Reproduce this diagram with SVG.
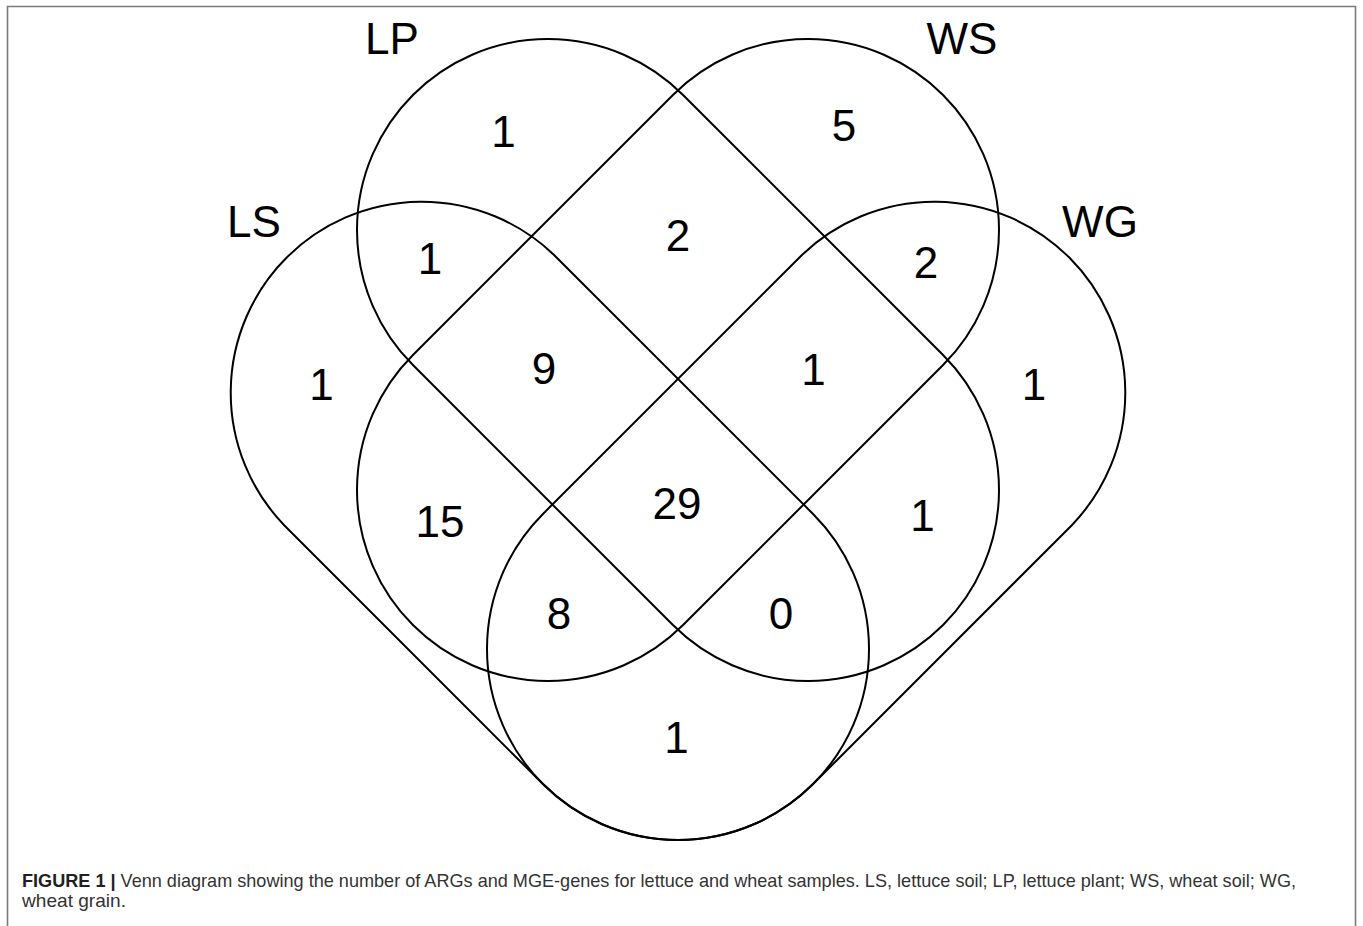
<svg xmlns="http://www.w3.org/2000/svg" width="1363" height="926" viewBox="0 0 1363 926">
<style>
.set{fill:none;stroke:#000;stroke-width:2}
.lab{font-family:"Liberation Sans",Arial,sans-serif;font-size:44px;fill:#000;text-anchor:middle}
.cap{font-family:"Liberation Sans",Arial,sans-serif;font-size:19px;fill:#333}
.frame{fill:none;stroke:#7a7a7a;stroke-width:1.6}
</style>
<rect width="1363" height="926" fill="#fff"/>
<path class="frame" d="M7.5,930 V6.5 H1355.5 V930"/>
<g id="set-LS">
<path class="set" d="M554.06,254.94 L813.06,513.94 A191,191 0 0 1 542.94,784.06 L283.94,524.94 A191,191 0 0 1 554.06,254.94 Z"/>
<text class="lab" x="254" y="237">LS</text>
</g>
<g id="set-LP">
<path class="set" d="M683.06,94.94 L943.06,354.94 A191,191 0 0 1 672.94,625.06 L412.94,365.06 A191,191 0 0 1 683.06,94.94 Z"/>
<text class="lab" x="392" y="54">LP</text>
</g>
<g id="set-WS">
<path class="set" d="M672.94,94.94 L412.94,354.94 A191,191 0 0 0 683.06,625.06 L943.06,365.06 A191,191 0 0 0 672.94,94.94 Z"/>
<text class="lab" x="962" y="54">WS</text>
</g>
<g id="set-WG">
<path class="set" d="M801.94,254.94 L542.94,513.94 A191,191 0 0 0 813.06,784.06 L1072.06,524.94 A191,191 0 0 0 801.94,254.94 Z"/>
<text class="lab" x="1100" y="237">WG</text>
</g>
<g id="counts">
<text class="lab" x="503.5" y="147">1</text>
<text class="lab" x="844" y="141">5</text>
<text class="lab" x="678" y="251">2</text>
<text class="lab" x="430" y="274">1</text>
<text class="lab" x="926" y="278">2</text>
<text class="lab" x="321.5" y="400">1</text>
<text class="lab" x="544" y="384">9</text>
<text class="lab" x="813.5" y="385">1</text>
<text class="lab" x="1034" y="400">1</text>
<text class="lab" x="440" y="537">15</text>
<text class="lab" x="677" y="519">29</text>
<text class="lab" x="922.5" y="531">1</text>
<text class="lab" x="559" y="629">8</text>
<text class="lab" x="781" y="629">0</text>
<text class="lab" x="676.5" y="753">1</text>
</g>
<g id="caption">
<text class="cap" x="22" y="887" textLength="1274" lengthAdjust="spacingAndGlyphs"><tspan font-weight="bold" fill="#231f20">FIGURE 1 |</tspan> Venn diagram showing the number of ARGs and MGE-genes for lettuce and wheat samples. LS, lettuce soil; LP, lettuce plant; WS, wheat soil; WG,</text>
<text class="cap" x="22" y="907" textLength="104" lengthAdjust="spacingAndGlyphs">wheat grain.</text>
</g>
</svg>
